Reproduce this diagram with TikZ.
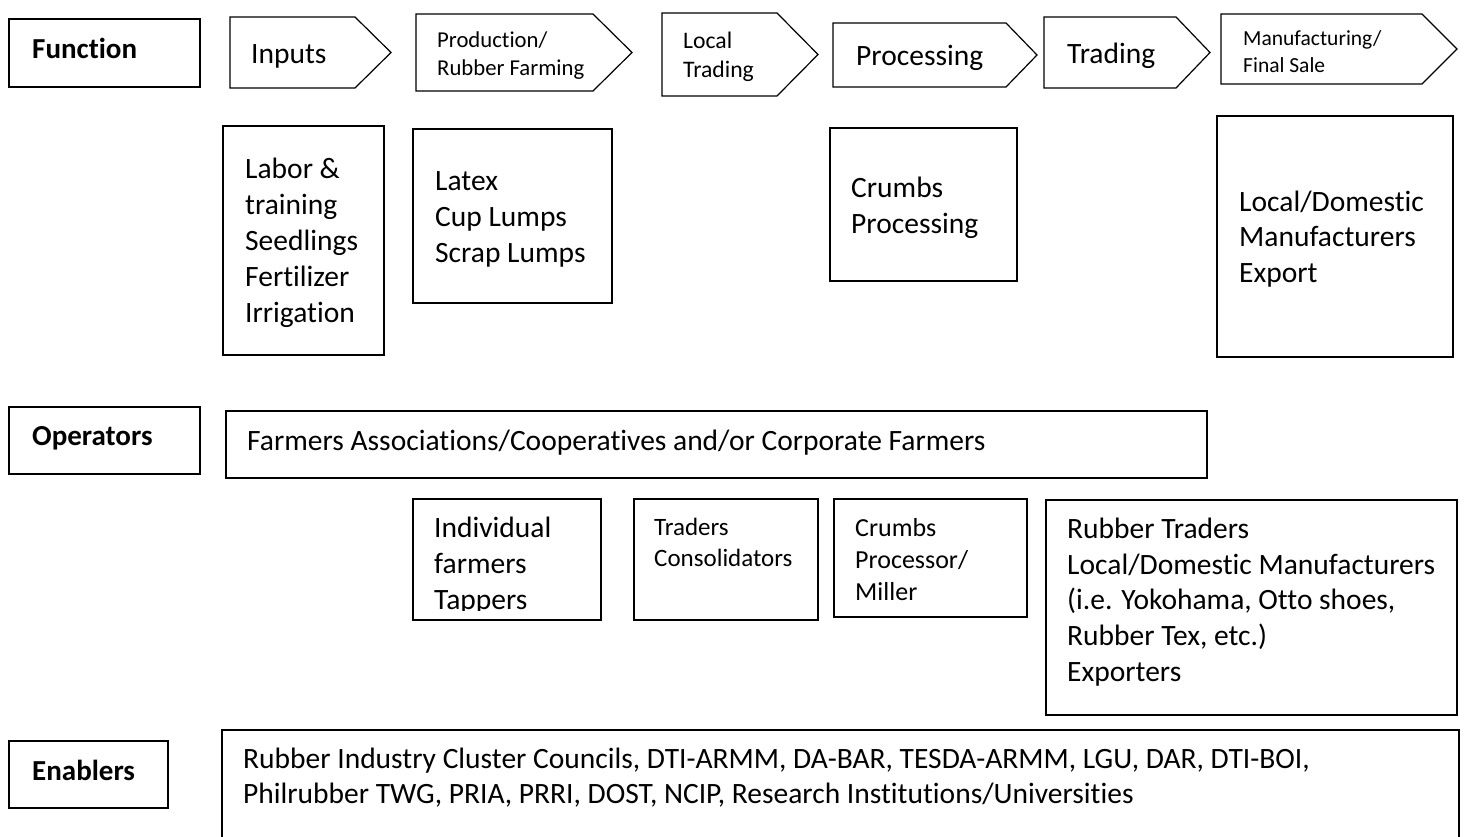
\documentclass[tikz,border=0pt]{standalone}
\usepackage{fontspec}
\setmainfont{Carlito}[Ligatures={NoCommon}]
\newcommand\chevbox[5]{\draw[thinbox] (#1,#2) -- (#4,#2) -- (#5,{(#2+#3)/2}) -- (#4,#3) -- (#1,#3) -- cycle;}
\begin{document}
\begin{tikzpicture}[x=1pt,y=-1pt,
  thinbox/.style={draw=black,line width=1.2pt},
  thickbox/.style={draw=black,line width=2.6pt},
  tx/.style 2 args={inner sep=0pt,anchor=north west,align=left,font=\fontsize{#1}{#2}\selectfont,yshift={0.7*#2pt}},
]
\fill[white] (0,0) rectangle (1467,837);
\useasboundingbox (0,0) rectangle (1467,837);

% left labels
\draw[thickbox] (9,19) rectangle (200,87);
\node[tx={29}{36}] (lfunc) at (32,58) {\strut\bfseries Function};
\draw[thickbox] (9,407) rectangle (200,474);
\node[tx={29}{36}] (lops) at (32,445) {\strut\bfseries Operators};
\draw[thickbox] (9,741) rectangle (168,808);
\node[tx={29}{36}] (lena) at (32,780) {\strut\bfseries Enablers};

% function chevrons
\chevbox{230}{17}{88}{355}{391}
\node[tx={29.5}{36}] (finputs) at (251,63) {\strut Inputs};
\chevbox{416}{14}{91}{593}{632}
\node[tx={22.7}{28}] (fprod) at (437,47) {\strut Production/\\Rubber Farming};
\chevbox{662}{13}{96}{777}{818}
\node[tx={23.7}{29}] (flocal) at (683,48) {\strut Local\\Trading};
\chevbox{833}{23}{87}{1006}{1037}
\node[tx={29.5}{36}] (fproc) at (856,65) {\strut Processing};
\chevbox{1044}{17}{88}{1176}{1210}
\node[tx={29.5}{36}] (ftrad) at (1067,63) {\strut Trading};
\chevbox{1221}{14}{84}{1422}{1457}
\node[tx={21.5}{27}] (fmanu) at (1243,45) {\strut Manufacturing/\\Final Sale};

% function detail boxes
\draw[thinbox] (223,126) rectangle (384,355);
\node[tx={29.5}{36}] (dinputs) at (245,178) {\strut Labor \&\\training\\Seedlings\\Fertilizer\\Irrigation};
\draw[thinbox] (413,129) rectangle (612,303);
\node[tx={29.5}{36}] (dprod) at (435,190) {\strut Latex\\Cup Lumps\\Scrap Lumps};
\draw[thinbox] (830,128) rectangle (1017,281);
\node[tx={29.5}{36}] (dproc) at (851,197) {\strut Crumbs\\Processing};
\draw[thinbox] (1217,116) rectangle (1453,357);
\node[tx={29.5}{35.5}] (dmanu) at (1239,211) {\strut Local/Domestic\\Manufacturers\\Export};

% operators
\draw[thinbox] (226,411) rectangle (1207,478);
\node[tx={29.5}{36}] (ofarm) at (247,450) {\strut Farmers Associations/Cooperatives and/or Corporate Farmers};
\draw[thinbox] (413,499) rectangle (601,620);
\begin{scope}
\clip (413,499) rectangle (601,610);
\node[tx={29.5}{36}] (oind) at (434,537) {\strut Individual\\farmers\\Tappers};
\end{scope}
\draw[thinbox] (634,499) rectangle (818,620);
\node[tx={25}{31}] (otrad) at (654,535) {\strut Traders\\Consolidators};
\draw[thinbox] (834,499) rectangle (1027,617);
\node[tx={26}{32}] (ocrumb) at (855,536) {\strut Crumbs\\Processor/\\Miller};
\draw[thinbox] (1046,500) rectangle (1457,715);
\node[tx={29.5}{35.8}] (orub) at (1067,538) {\strut Rubber Traders\\Local/Domestic Manufacturers\\(i.e. Yokohama, Otto shoes,\\Rubber Tex, etc.)\\Exporters};

% enablers
\begin{scope}
\clip (0,0) rectangle (1467,837);
\draw[thinbox] (222,730) rectangle (1459,850);
\end{scope}
\node[tx={29.5}{35}] (eall) at (243,768) {\strut Rubber Industry Cluster Councils, DTI-ARMM, DA-BAR, TESDA-ARMM, LGU, DAR, DTI-BOI,\\Philrubber TWG, PRIA, PRRI, DOST, NCIP, Research Institutions/Universities};
\end{tikzpicture}
\end{document}
